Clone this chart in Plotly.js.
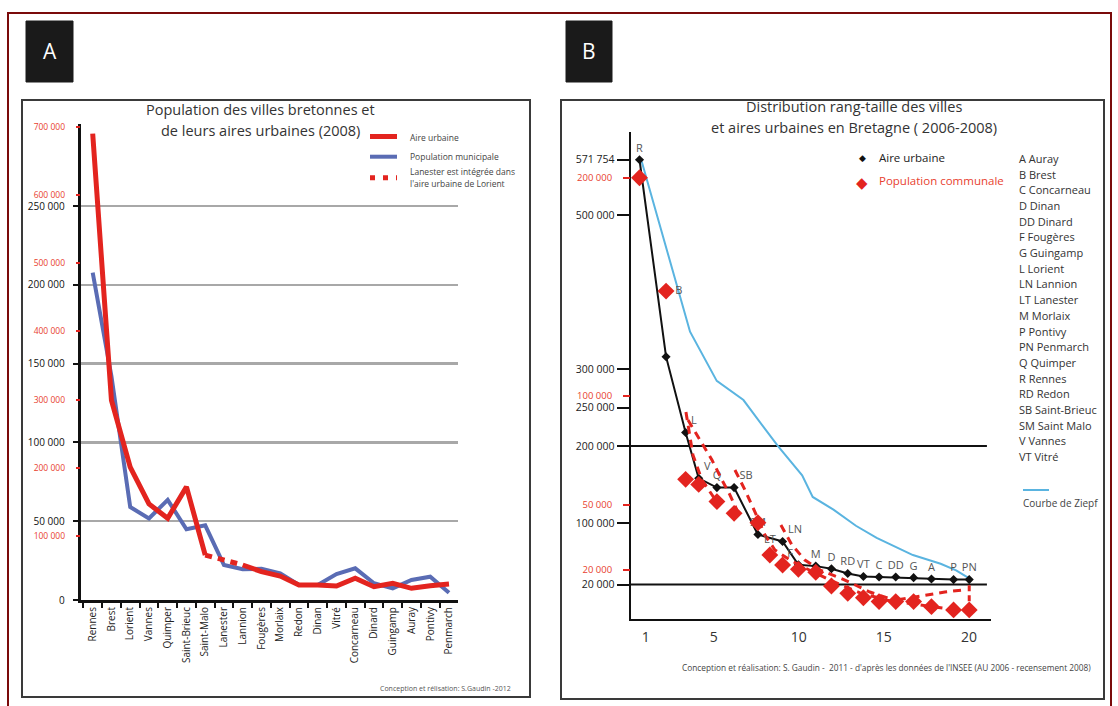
<!DOCTYPE html>
<html>
<head>
<meta charset="utf-8">
<script src="https://cdn.plot.ly/plotly-3.0.1.min.js"></script>
<style>
html,body{margin:0;padding:0;background:#ffffff;}
#chart{width:1118px;height:706px;}
</style>
</head>
<body>
<div id="chart"></div>
<script>
// ================= DATA =================
// Panel A : population des villes bretonnes (2008)
const villes = ['Rennes','Brest','Lorient','Vannes','Quimper','Saint-Brieuc','Saint-Malo','Lanester','Lannion','Fougères','Morlaix','Redon','Dinan','Vitré','Concarneau','Dinard','Guingamp','Auray','Pontivy','Penmarch'];
const populationMunicipale = [207700,142000,59000,51800,63500,44900,47400,22200,19500,19800,16900,9500,9500,16500,20100,10600,7400,12700,14800,4600];
const aireUrbaine2008 = [690000,299000,201000,147000,126000,172000,72000,null,57500,47700,41300,28200,28200,26700,38000,25700,30600,23300,27100,29600];
const lanesterVilles = ['Saint-Malo','Lannion'];
const lanesterValeurs = [72000,57500];
const ticksNoirsA = [0,50000,100000,150000,200000,250000];
const ticksRougesA = [100000,200000,300000,400000,500000,600000,700000];

// Panel B : distribution rang-taille (2006-2008)
const codes = ['R','B','L','V','Q','SB','SM','LT','LN','F','M','D','RD','VT','C','DD','G','A','P','PN'];
const rang = [0.64,2.2,3.35,4.12,5.19,6.2,7.6,8.3,9.05,9.98,11.0,11.92,12.88,13.8,14.72,15.7,16.75,17.8,19.1,20.02];
const aireUrbaine2006 = [571754,316000,217500,158000,146000,146000,85000,null,76000,45700,44000,40600,34400,30600,29800,29800,29000,27300,26500,26500];
const populationCommunale = [200000,148000,61600,59300,51400,46000,41700,26900,22300,20300,19000,12700,9300,7300,5500,5500,5500,3200,1700,1700];
const zipfRang = [0.77,3.61,5.18,6.75,7.97,8.78,10.2,10.82,12.04,13.36,14.58,16.71,18.34,19.25,20.07];
const zipfValeur = [569500,348400,284500,259700,223500,199800,162000,133800,117300,96400,80800,58400,47100,38600,27400];
const tiret1Rang = [3.37,3.78,4.31,4.9,5.19];
const tiret1Val = [92500,72800,61300,54400,51200];
const tiret2Rang = [3.49,4.2,4.9,5.49,5.96,6.37];
const tiret2Val = [88800,79700,70500,61300,54400,47500];
const tiret3Rang = [6.25,6.84,7.43,8.01,8.6,9.48,10.36,11.83,13.6,15.37,16.83,18.59,19.59];
const tiret3Val = [65900,56700,46600,36100,29200,24600,21000,15400,9500,5800,7600,9900,10800];
const tiret4Rang = [8.95,9.6,10.36,11.25,12.71,14.18,15.95,17.71,19.18];
const tiret4Val = [40700,31500,24600,20000,15400,9900,5300,3500,1700];
const liaisonRang = [20.02,20.02];
const liaisonVal = [13000,4000];
const ticksRang = [1,5,10,15,20];
const ticksNoirsB = [20000,100000,200000,250000,300000,500000,571754];
const ticksRougesB = [20000,50000,100000,200000];
const lignesRepere = [200000,20000];
const legendeVilles = ['A Auray','B Brest','C Concarneau','D Dinan','DD Dinard','F Fougères','G Guingamp','L Lorient','LN Lannion','LT Lanester','M Morlaix','P Pontivy','PN Penmarch','Q Quimper','R Rennes','RD Redon','SB Saint-Brieuc','SM Saint Malo','V Vannes','VT Vitré'];

// ================= STYLE =================
const W = 1118, H = 706;
const px = x => x / W;
const py = y => 1 - y / H;
const FONT = 'Open Sans, Noto Sans, sans-serif';
const RED = '#e3241f';
const RED_TXT = '#e8412f';
const BLUE = '#5a6cb4';
const ZIPF = '#5ab4e0';

const posNoir = {R:'top center',L:'top right',V:'top right',Q:'top center',SB:'top right',SM:'top center',LN:'top right',F:'top left'};

const traces = [
  // ---- Panel A ----
  {x: villes, y: populationMunicipale, xaxis:'x', yaxis:'y', mode:'lines',
   line:{color:BLUE, width:4}, hoverinfo:'skip', showlegend:false},
  {x: villes, y: aireUrbaine2008, xaxis:'x', yaxis:'y4', mode:'lines', connectgaps:false,
   line:{color:RED, width:5}, hoverinfo:'skip', showlegend:false},
  {x: lanesterVilles, y: lanesterValeurs, xaxis:'x', yaxis:'y4', mode:'lines',
   line:{color:RED, width:5, dash:'7px,6px'}, hoverinfo:'skip', showlegend:false},
  // ---- Panel B ----
  {x: zipfRang, y: zipfValeur, xaxis:'x2', yaxis:'y2', mode:'lines',
   line:{color:ZIPF, width:2}, hoverinfo:'skip', showlegend:false},
  {x: tiret1Rang, y: tiret1Val, xaxis:'x2', yaxis:'y3', mode:'lines',
   line:{color:RED, width:3, dash:'8px,6px'}, hoverinfo:'skip', showlegend:false},
  {x: tiret2Rang, y: tiret2Val, xaxis:'x2', yaxis:'y3', mode:'lines',
   line:{color:RED, width:3, dash:'8px,6px'}, hoverinfo:'skip', showlegend:false},
  {x: tiret3Rang, y: tiret3Val, xaxis:'x2', yaxis:'y3', mode:'lines',
   line:{color:RED, width:3, dash:'8px,6px'}, hoverinfo:'skip', showlegend:false},
  {x: tiret4Rang, y: tiret4Val, xaxis:'x2', yaxis:'y3', mode:'lines',
   line:{color:RED, width:3, dash:'8px,6px'}, hoverinfo:'skip', showlegend:false},
  {x: liaisonRang, y: liaisonVal, xaxis:'x2', yaxis:'y3', mode:'lines',
   line:{color:RED, width:3, dash:'6px,4px'}, hoverinfo:'skip', showlegend:false},
  {x: rang, y: populationCommunale, xaxis:'x2', yaxis:'y3', mode:'markers+text',
   marker:{symbol:'diamond', size:13, color:RED},
   text: codes.map(c => (c==='B'||c==='LT') ? c : ''),
   textposition: codes.map(c => c==='B' ? 'middle right' : 'top center'),
   textfont:{family:FONT, size:11, color:'#555'}, cliponaxis:false,
   hoverinfo:'skip', showlegend:false},
  {x: rang, y: aireUrbaine2006, xaxis:'x2', yaxis:'y2', mode:'lines+markers+text', connectgaps:true,
   line:{color:'#111', width:2}, marker:{symbol:'diamond', size:7, color:'#111'},
   text: codes.map(c => (c==='B'||c==='LT') ? '' : c),
   textposition: codes.map(c => posNoir[c] || 'top center'),
   textfont:{family:FONT, size:11, color:'#555'}, cliponaxis:false,
   hoverinfo:'skip', showlegend:false}
];

const shapes = [];
const annotations = [];
function rectPx(x0,y0,x1,y1,opt){ shapes.push(Object.assign({type:'rect', xref:'paper', yref:'paper', x0:px(x0), x1:px(x1), y0:py(y0), y1:py(y1)}, opt)); }
function linePx(x0,y0,x1,y1,opt){ shapes.push(Object.assign({type:'line', xref:'paper', yref:'paper', x0:px(x0), x1:px(x1), y0:py(y0), y1:py(y1)}, opt)); }
function textPx(t,x,y,opt){ annotations.push(Object.assign({text:t, xref:'paper', yref:'paper', x:px(x), y:py(y), showarrow:false, xanchor:'left', yanchor:'middle', font:{family:FONT, size:11, color:'#333'}}, opt)); }

// frames
rectPx(8,13,1111,716,{line:{color:'#7a0a0a', width:2}});
rectPx(22,100,530,697,{line:{color:'#3a3a3a', width:2}});
rectPx(561,100,1104,699,{line:{color:'#3a3a3a', width:2}});
rectPx(26,21,73,82,{fillcolor:'#1a1a1a', line:{color:'#1a1a1a', width:1}});
rectPx(566,21,612,82,{fillcolor:'#1a1a1a', line:{color:'#1a1a1a', width:1}});
textPx('A',49.5,51,{xanchor:'center', font:{family:FONT, size:21, color:'#ffffff'}});
textPx('B',589,51,{xanchor:'center', font:{family:FONT, size:21, color:'#ffffff'}});

// Panel A titles & legend
textPx('Population des villes bretonnes et',260,109,{xanchor:'center', font:{family:FONT, size:14.5, color:'#333'}});
textPx('de leurs aires urbaines (2008)',260,130,{xanchor:'center', font:{family:FONT, size:14.5, color:'#333'}});
linePx(370,136.5,397,136.5,{line:{color:RED, width:5}});
linePx(370,156.7,397,156.7,{line:{color:BLUE, width:4}});
linePx(370,177.7,397,177.7,{line:{color:RED, width:5, dash:'5px,8px'}});
textPx('Aire urbaine',408,137,{font:{family:FONT, size:8.5, color:'#444'}});
textPx('Population municipale',408,156,{font:{family:FONT, size:8.5, color:'#444'}});
textPx('Lanester est intégrée dans',408,171,{font:{family:FONT, size:8.5, color:'#444'}});
textPx("l'aire urbaine de Lorient",408,183,{font:{family:FONT, size:8.5, color:'#444'}});
textPx('Conception et rélisation: S.Gaudin -2012',513,688,{xanchor:'right', font:{family:FONT, size:7, color:'#555'}});

// Panel B titles & legend
textPx('Distribution rang-taille des villes',854,107,{xanchor:'center', font:{family:FONT, size:14.5, color:'#333'}});
textPx('et aires urbaines en Bretagne ( 2006-2008)',854,128,{xanchor:'center', font:{family:FONT, size:14.5, color:'#333'}});
textPx('◆',862,157.5,{xanchor:'center', font:{family:'DejaVu Sans', size:9, color:'#111'}});
textPx('Aire urbaine',877,157.5,{font:{family:FONT, size:11.5, color:'#222'}});
textPx('◆',862,183,{xanchor:'center', font:{family:'DejaVu Sans', size:15, color:RED}});
textPx('Population communale',877,180,{font:{family:FONT, size:11.5, color:RED_TXT}});
legendeVilles.forEach((t,i) => textPx(t,1017,158.3 + 15.7*i,{font:{family:FONT, size:11, color:'#333'}}));
linePx(1023,490,1049,490,{line:{color:ZIPF, width:2}});
textPx('Courbe de Ziepf',1021,503,{font:{family:FONT, size:10, color:'#444'}});
textPx("Conception et réalisation: S. Gaudin -  2011 - d'après les données de l'INSEE (AU 2006 - recensement 2008)",886,667,{xanchor:'center', font:{family:FONT, size:8.3, color:'#444'}});

// reference lines panel B
lignesRepere.forEach(v => shapes.push({type:'line', xref:'x2', yref:'y2', x0:0.14, x1:21.06, y0:v, y1:v, layer:'below', line:{color:'#111', width:2}}));

const layout = {
  width: W, height: H,
  margin:{l:0, r:0, t:0, b:0, pad:0},
  paper_bgcolor:'#ffffff', plot_bgcolor:'rgba(0,0,0,0)',
  separators: ', ',
  font:{family:FONT, color:'#222'},
  showlegend:false,
  xaxis:{domain:[px(80.7), px(458)], anchor:'y', type:'category', categoryorder:'array', categoryarray:villes,
    range:[-0.64,19.48], tickangle:-90, tickson:'boundaries', ticks:'outside', ticklen:5, tickwidth:2, tickcolor:'#111',
    showline:true, linecolor:'#111', linewidth:3, showgrid:false, zeroline:false,
    tickfont:{family:FONT, size:10, color:'#222'}, fixedrange:true},
  yaxis:{domain:[py(600), py(124)], anchor:'x', range:[0,302030], tickvals:ticksNoirsA, tickformat:',d',
    showline:true, linecolor:'#111', linewidth:3, ticks:'outside', ticklen:5, tickwidth:2, tickcolor:'#111',
    ticklabelstandoff:6, showgrid:true, gridcolor:'#a8a8a8', gridwidth:2.5, zeroline:false,
    tickfont:{family:FONT, size:10, color:'#111'}, fixedrange:true},
  yaxis4:{overlaying:'y', side:'left', anchor:'x', range:[6158,704106], tickvals:ticksRougesA, tickformat:',d',
    showline:false, ticks:'outside', ticklen:4, tickwidth:2, tickcolor:RED, ticklabelstandoff:9,
    showgrid:false, zeroline:false, tickfont:{family:FONT, size:8.5, color:RED_TXT}, fixedrange:true},
  xaxis2:{domain:[px(631), px(991)], anchor:'y2', range:[0.14,21.3], tickvals:ticksRang,
    showline:true, linecolor:'#111', linewidth:2.5, ticks:'', showgrid:false, zeroline:false, ticklabelstandoff:4,
    tickfont:{family:FONT, size:14, color:'#333'}, fixedrange:true},
  yaxis2:{domain:[py(618.7), py(131.7)], anchor:'x2', range:[-24286,608182], tickvals:ticksNoirsB, tickformat:',d',
    showline:true, linecolor:'#111', linewidth:2.5, ticks:'outside', ticklen:12, tickwidth:2, tickcolor:'#111',
    showgrid:false, zeroline:false, tickfont:{family:FONT, size:10.5, color:'#222'}, fixedrange:true},
  yaxis3:{overlaying:'y2', side:'left', anchor:'x2', range:[-2341,221157], tickvals:ticksRougesB, tickformat:',d',
    showline:false, ticks:'outside', ticklen:7, tickwidth:2, tickcolor:RED, ticklabelstandoff:9,
    showgrid:false, zeroline:false, tickfont:{family:FONT, size:9.5, color:RED_TXT}, fixedrange:true},
  shapes: shapes,
  annotations: annotations
};

Plotly.newPlot('chart', traces, layout, {staticPlot:true, displayModeBar:false});
</script>
</body>
</html>
